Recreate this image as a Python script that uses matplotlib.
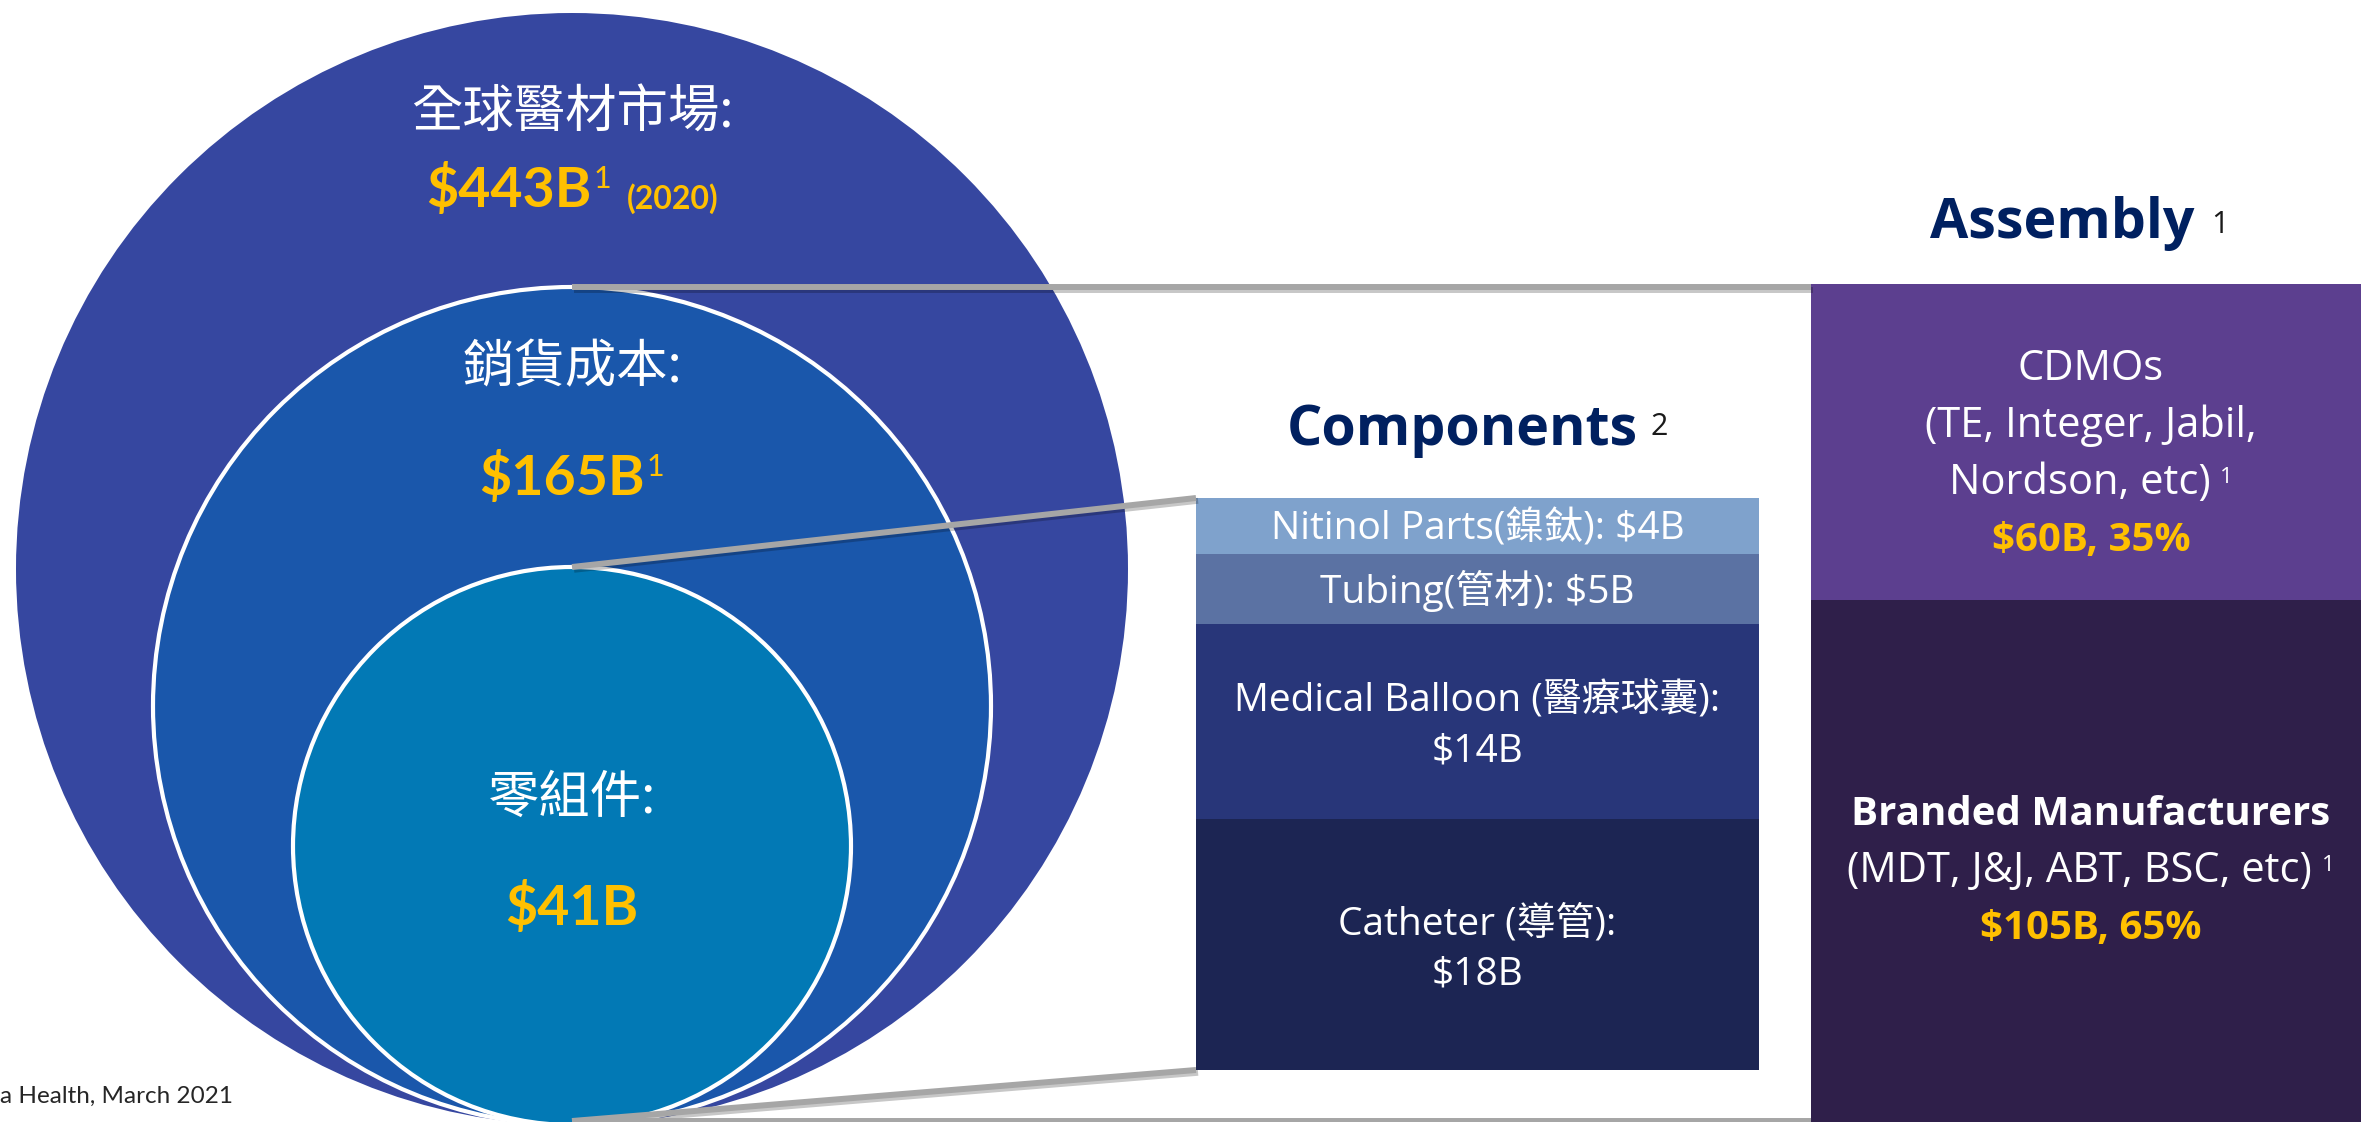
from __future__ import annotations

import matplotlib

matplotlib.use("Agg")
import matplotlib.patheffects as pe
import matplotlib.pyplot as plt
from matplotlib.patches import Circle

W, H, DPI = 2361, 1122, 100

# ---- data -----------------------------------------------------------------
market_labels = ["全球醫材市場:", "銷貨成本:", "零組件:"]
market_values = ["$443B", "$165B", "$41B"]
market_notes = ["1", "1", ""]
market_year = ["(2020)", "", ""]

comp_labels = ["Nitinol Parts(鎳鈦)", "Tubing(管材)", "Medical Balloon (醫療球囊)", "Catheter (導管)"]
comp_values = [4, 5, 14, 18]  # $B
comp_wrap = [False, False, True, True]

asm_labels = ["CDMOs", "Branded Manufacturers"]
asm_members = [["(TE, Integer, Jabil,", "Nordson, etc)"], ["(MDT, J&J, ABT, BSC, etc)"]]
asm_values = [60, 105]  # $B
asm_shares = [35, 65]  # %

titles = ["Components", "Assembly"]
title_notes = ["2", "1"]
source_note = "a Health, March 2021"

# ---- style / layout -------------------------------------------------------
CIRCLE_COLORS = ["#3647A0", "#1A57AB", "#0279B5"]
COMP_COLORS = ["#7FA2CC", "#5B72A3", "#283679", "#1C2553"]
ASM_COLORS = ["#5C3F8F", "#2F1F4A"]
GOLD = "#FFC000"
NAVY = "#002060"
LINK = "#A6A6A6"

CJK = ["Noto Sans CJK TC", "DejaVu Sans"]
SANS = ["Open Sans", "Noto Sans CJK TC", "DejaVu Sans"]
NUM = ["Lato", "DejaVu Sans"]

CX, BOTTOM = 572, 1125
RADII = [556, 419, 279]
LABEL_Y = [113, 368, 798]
VALUE_BASE = [207, 495, 925]

fig = plt.figure(figsize=(W / DPI, H / DPI), dpi=DPI, facecolor="white")

comp_box = (1196, 498, 1759, 1070)  # left, top, right, bottom in px
comp_ax = fig.add_axes([comp_box[0] / W, 1 - comp_box[3] / H,
                        (comp_box[2] - comp_box[0]) / W, (comp_box[3] - comp_box[1]) / H])
asm_left, asm_top, px_per_b = 1811, 284, 5.26
asm_h = px_per_b * sum(asm_values)
asm_ax = fig.add_axes([asm_left / W, 1 - (asm_top + asm_h) / H, (W - asm_left + 10) / W, asm_h / H])

ax = fig.add_axes([0, 0, 1, 1], zorder=3)
ax.set_xlim(0, W)
ax.set_ylim(H, 0)
ax.axis("off")

# stacked columns
base = 0
for v, c in zip(comp_values, COMP_COLORS):
    comp_ax.bar(0, v, bottom=base, width=1, color=c, linewidth=0)
    base += v
comp_ax.set_xlim(-0.5, 0.5)
comp_ax.set_ylim(sum(comp_values), 0)
comp_ax.axis("off")

base = 0
for v, c in zip(asm_values, ASM_COLORS):
    asm_ax.bar(0, v, bottom=base, width=1, color=c, linewidth=0)
    base += v
asm_ax.set_xlim(-0.5, 0.5)
asm_ax.set_ylim(sum(asm_values), 0)
asm_ax.axis("off")


def px(axis, x, y):
    return ax.transData.inverted().transform(axis.transData.transform((x, y)))


renderer = fig.canvas.get_renderer()


def run_line(x, y, parts, z=10):
    # parts: (text, style, rise px, gap px before) laid out on one baseline, centred on x
    items = []
    for s, kw, rise, gap in parts:
        t = ax.text(0, y - rise, s, ha="left", va="baseline", zorder=z, **kw)
        items.append((t, t.get_window_extent(renderer).width, gap))
    cur = x - sum(w + g for _, w, g in items) / 2
    for t, w, g in items:
        cur += g
        t.set_x(cur)
        cur += w


# nested circles
for i, (r, c) in enumerate(zip(RADII, CIRCLE_COLORS)):
    ax.add_patch(Circle((CX, BOTTOM - r), r, facecolor=c,
                        edgecolor="white" if i else "none", linewidth=3, zorder=1 + i))

# connector lines
shadow = [pe.SimpleLineShadow(offset=(1.5, -2), shadow_color="black", alpha=0.22), pe.Normal()]
asm_tl = px(asm_ax, -0.5, 0)
comp_tl = px(comp_ax, -0.5, 0)
comp_bl = px(comp_ax, -0.5, sum(comp_values))
links = [
    ((CX, BOTTOM - 2 * RADII[1]), (asm_tl[0], asm_tl[1] + 3)),
    ((CX, BOTTOM - 2 * RADII[2]), comp_tl),
    ((CX, BOTTOM - 4), comp_bl),
    ((CX, BOTTOM - 4), (asm_tl[0], BOTTOM - 4)),
]
for (x0, y0), (x1, y1) in links:
    ax.plot([x0, x1], [y0, y1], color=LINK, lw=4.3, solid_capstyle="butt",
            path_effects=shadow, zorder=6)

# circle texts
for i in range(3):
    ax.text(CX, LABEL_Y[i], market_labels[i], ha="center", va="center", color="white",
            fontsize=37, family=CJK, weight="light", zorder=10)
    parts = [(market_values[i], dict(color=GOLD, fontsize=40, weight="bold", family=NUM), 0, 0)]
    if market_notes[i]:
        parts.append((market_notes[i], dict(color=GOLD, fontsize=22, family=NUM), 19, 2))
    if market_year[i]:
        parts.append((market_year[i], dict(color=GOLD, fontsize=23, weight="bold", family=NUM), -2, 16))
    run_line(CX, VALUE_BASE[i], parts)

# component labels
base = 0
for lab, v, wrap in zip(comp_labels, comp_values, comp_wrap):
    x, yc = px(comp_ax, 0, base + v / 2)
    style = dict(color="white", fontsize=28, family=SANS, ha="center", va="baseline", zorder=10)
    if wrap:
        ax.text(x, yc - 10, f"{lab}:", **style)
        ax.text(x, yc + 40, f"${v}B", **style)
    else:
        ax.text(x, yc + 14, f"{lab}: ${v}B", **style)
    base += v

# assembly labels
asm_shift = [9, -8]
base = 0
for i, (lab, members, v, s) in enumerate(zip(asm_labels, asm_members, asm_values, asm_shares)):
    x, yc = px(asm_ax, 0, base + v / 2)
    n = len(members) + 2
    first = yc - (29 + (n - 1) * 57) / 2 + 29 + asm_shift[i]
    reg = dict(color="white", fontsize=30, family=SANS)
    run_line(x, first, [(lab, dict(reg, weight="bold", fontsize=29) if i else reg, 0, 0)])
    for k, m in enumerate(members):
        parts = [(m, reg, 0, 0)]
        if k == len(members) - 1:
            parts.append(("1", dict(color="white", fontsize=16, family=SANS), 11, 10))
        run_line(x, first + 57 * (k + 1), parts)
    run_line(x, first + 57 * (n - 1),
             [(f"${v}B, {s}%", dict(color=GOLD, fontsize=29, weight="bold", family=SANS), 0, 0)])
    base += v

# titles
title_style = dict(color=NAVY, fontsize=40, weight="bold", family=SANS)
note_style = dict(color="#1a1a1a", fontsize=22, family=SANS)
comp_cx = px(comp_ax, 0, 0)[0]
asm_cx = px(asm_ax, 0, 0)[0]
run_line(comp_cx, 445, [(titles[0], title_style, 0, 0), (title_notes[0], note_style, 10, 13)])
run_line(asm_cx - 12, 238, [(titles[1], title_style, 0, 0), (title_notes[1], note_style, 5, 17)])

ax.text(0, 1103, source_note, ha="left", va="baseline", fontsize=17.5, family=NUM,
        color="#262626", zorder=10)

fig.savefig("out.png", dpi=DPI, facecolor="white")
